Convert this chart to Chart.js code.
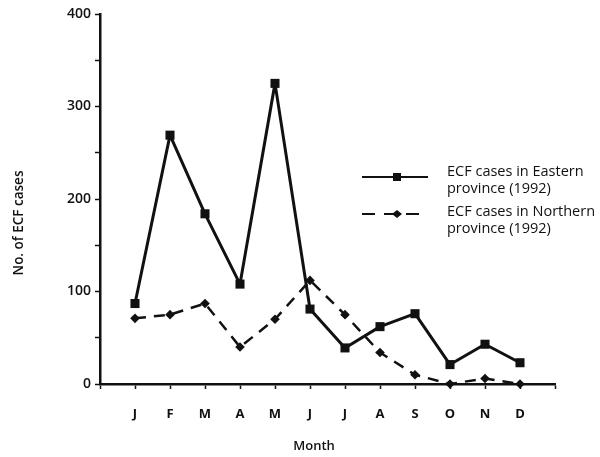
<!DOCTYPE html>
<html><head><meta charset="utf-8">
<script src="https://cdn.jsdelivr.net/npm/chart.js@4"></script>
<style>html,body{margin:0;padding:0;background:#fff}#wrap{width:600px;height:457px;position:relative}</style>
</head><body><div id="wrap"><canvas id="c" width="600" height="457"></canvas></div>
<script>
const months = ['J','F','M','A','M','J','J','A','S','O','N','D'];
const eastern = [87, 269, 184, 108, 325, 81, 39, 62, 76, 21, 43, 23];
const northern = [71, 75, 87, 40, 70, 112, 75, 34, 10, 0, 6, 0];
const yTicks = [0, 100, 200, 300, 400];
const legendLabels = [['ECF cases in Eastern','province (1992)'],['ECF cases in Northern','province (1992)']];
const xTitle = 'Month';
const yTitle = 'No. of ECF cases';

const INK = '#111';
const FONT = '"Open Sans", "DejaVu Sans", sans-serif';
const toPts = arr => arr.map((v,i)=>({x:i+1,y:v}));

const overlay = {
  id:'overlay',
  afterDraw(chart){
    const ctx = chart.ctx;
    ctx.save();
    ctx.fillStyle = INK;
    ctx.font = '600 13px ' + FONT;
    ctx.textAlign='center'; ctx.textBaseline='middle';
    ctx.fillText(xTitle, 314, 446);
    ctx.font = '600 13.5px ' + FONT;
    ctx.save(); ctx.translate(19, 223); ctx.rotate(-Math.PI/2); ctx.fillText(yTitle,0,0); ctx.restore();
    // legend
    ctx.font = '14.5px ' + FONT;
    ctx.textAlign='left';
    const rows=[{y:177, ty:172, dash:[], marker:'sq'},{y:214, ty:212, dash:[13,9], marker:'dia'}];
    rows.forEach((r,i)=>{
      ctx.strokeStyle=INK; ctx.lineWidth=2.2; ctx.setLineDash(r.dash);
      ctx.beginPath(); ctx.moveTo(362,r.y); ctx.lineTo(428,r.y); ctx.stroke(); ctx.setLineDash([]);
      ctx.beginPath();
      if(r.marker==='sq'){ ctx.rect(393,r.y-4,8,8);} else {ctx.moveTo(397,r.y-4);ctx.lineTo(402,r.y);ctx.lineTo(397,r.y+4);ctx.lineTo(392,r.y);ctx.closePath();}
      ctx.fill();
      ctx.fillText(legendLabels[i][0], 447, r.ty);
      ctx.fillText(legendLabels[i][1], 447, r.ty+17);
    });
    ctx.restore();
  }
};

new Chart(document.getElementById('c'), {
  type:'line',
  data:{datasets:[
    {label:'Eastern', data:toPts(eastern), borderColor:INK, backgroundColor:INK, borderWidth:3,
     borderJoinStyle:'round', pointStyle:'rect', pointRadius:6.4, pointBorderWidth:0, tension:0},
    {label:'Northern', data:toPts(northern), borderColor:INK, backgroundColor:INK, borderWidth:2.5,
     borderJoinStyle:'round', borderDash:[11,8], pointStyle:'rectRot', pointRadius:4.8, pointBorderWidth:0, tension:0}
  ]},
  options:{
    responsive:false, animation:false, clip:false,
    layout:{padding:{top:14,right:45,left:0,bottom:0}},
    plugins:{legend:{display:false}, tooltip:{enabled:false}},
    scales:{
      x:{type:'linear', min:0, max:13,
        afterFit(s){s.height=73;},
        border:{color:INK, width:2.5},
        grid:{drawOnChartArea:false, tickLength:5, tickColor:INK, tickWidth:1.5},
        ticks:{stepSize:1, autoSkip:false, maxRotation:0, padding:17, color:INK,
          font:{family:FONT, size:13, weight:'bold'},
          callback:(v)=> (v>=1 && v<=12) ? months[v-1] : ''}
      },
      y:{type:'linear', min:0, max:400,
        afterFit(s){s.width=100;},
        border:{color:INK, width:2.5},
        grid:{drawOnChartArea:false, tickLength:5, tickColor:INK, tickWidth:1.5},
        ticks:{stepSize:50, padding:4, color:INK, font:{family:FONT, size:14, weight:'600'},
          callback:(v)=> yTicks.includes(v) ? String(v) : ''}
      }
    }
  },
  plugins:[overlay]
});
</script></body></html>
